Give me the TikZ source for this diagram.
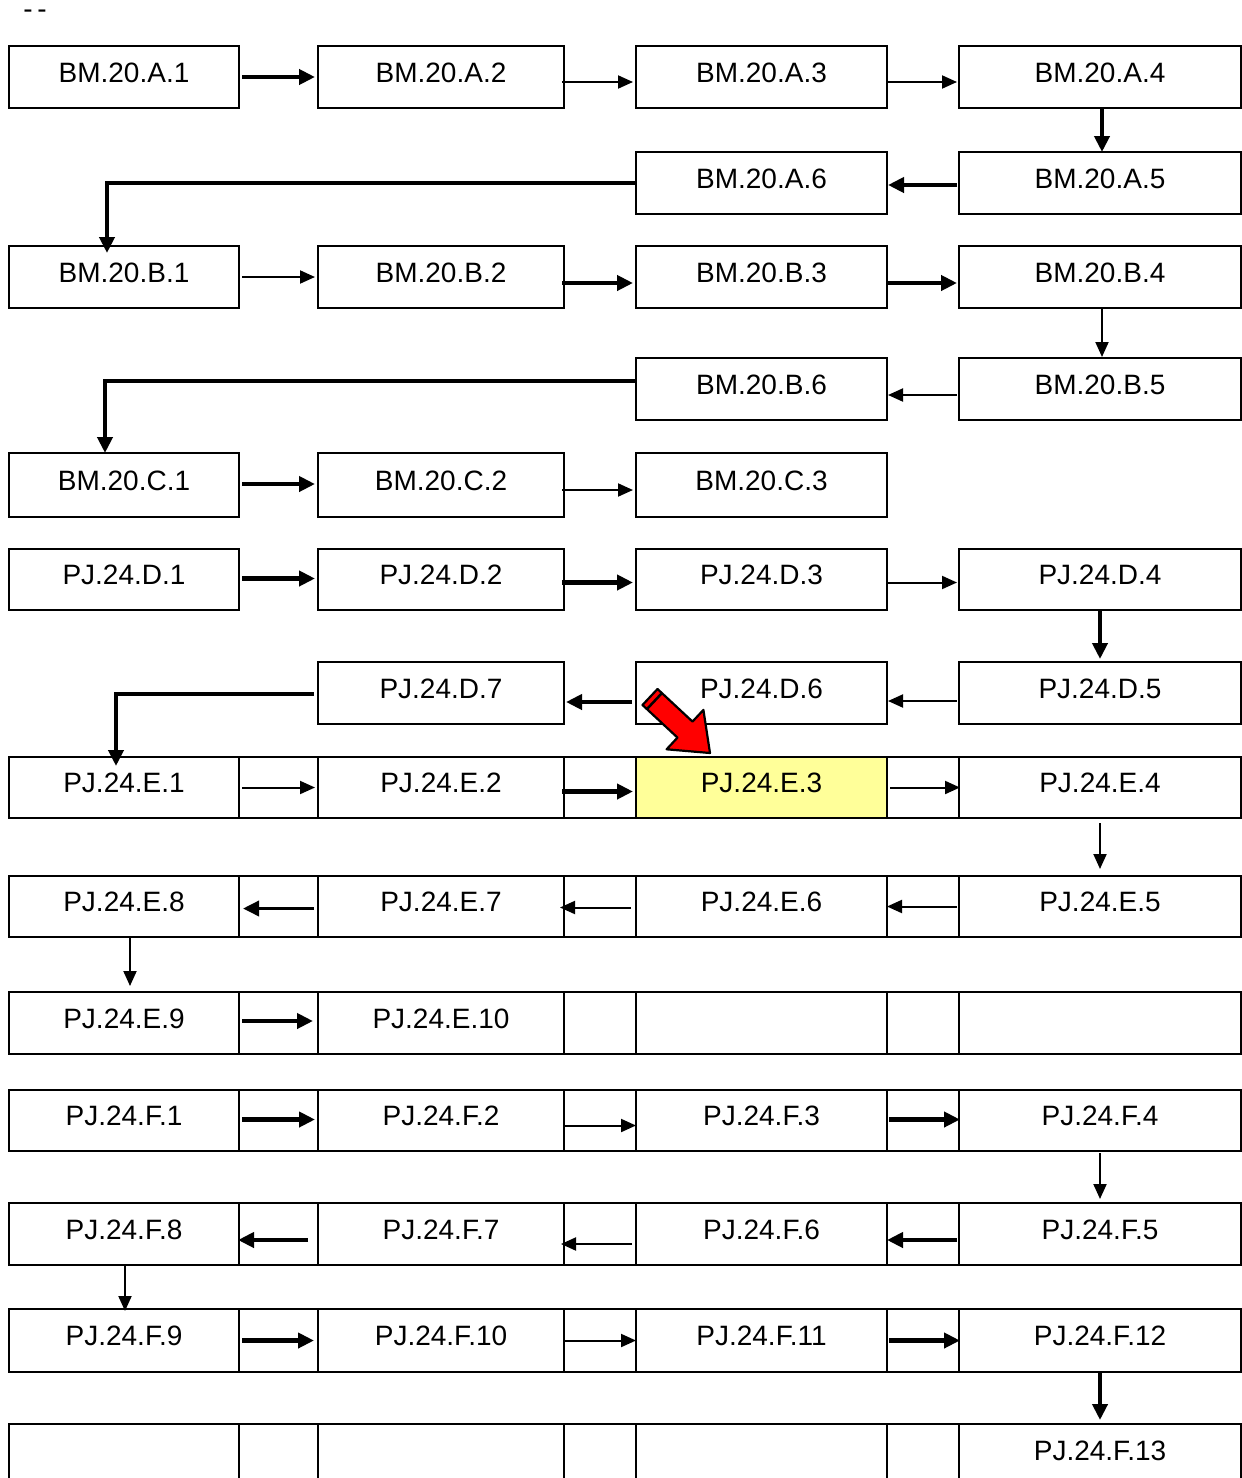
\documentclass[tikz,border=0pt]{standalone}
\usepackage{fontspec}
\setmainfont{Liberation Sans}
\usetikzlibrary{arrows.meta,calc}
\definecolor{hlyellow}{HTML}{FFFF99}
\newcommand\cell[7]{\node[#7, minimum width={#4-#2}, minimum height={#5-#3}] (#1) at ({(#2+#4)/2},{(#3+#5)/2}) {#6};}
% full table row: names prefix, y1, y2, texts of 3 main cells, style of third cell
\newcommand\trow[7]{%
  \cell{#1a}{9}{#2}{239}{#3}{#4}{box}
  \cell{#1ga}{239}{#2}{318}{#3}{}{box}
  \cell{#1b}{318}{#2}{564}{#3}{#5}{box}
  \cell{#1gb}{564}{#2}{636}{#3}{}{box}
  \cell{#1c}{636}{#2}{887}{#3}{#6}{#7}
  \cell{#1gc}{887}{#2}{959}{#3}{}{box}
}
\begin{document}
\begin{tikzpicture}[x=1pt,y=-1pt,
  box/.style={draw, line width=2pt, inner sep=0pt, outer sep=0pt,
    font=\fontsize{28}{32}\selectfont, text height=20pt, text depth=10pt},
  hl/.style={box, fill=hlyellow},
  thk/.style={line width=4.5pt, -{Triangle[length=16pt,width=15pt]}},
  thn/.style={line width=2pt, -{Triangle[length=15pt,width=13pt]}},
  redarrow/.style={fill=red, draw=black, line width=2.2pt, line join=round}]
\useasboundingbox (0,0) rectangle (1242,1478);
\node[font=\fontsize{28}{32}\selectfont, anchor=base, inner sep=0pt, text height=10pt] (dash) at (35,18) {-\,-};

% Row A
\cell{A1}{9}{46}{239}{108}{BM.20.A.1}{box}
\cell{A2}{318}{46}{564}{108}{BM.20.A.2}{box}
\cell{A3}{636}{46}{887}{108}{BM.20.A.3}{box}
\cell{A4}{959}{46}{1241}{108}{BM.20.A.4}{box}
\cell{A6}{636}{152}{887}{214}{BM.20.A.6}{box}
\cell{A5}{959}{152}{1241}{214}{BM.20.A.5}{box}
% Row B
\cell{B1}{9}{246}{239}{308}{BM.20.B.1}{box}
\cell{B2}{318}{246}{564}{308}{BM.20.B.2}{box}
\cell{B3}{636}{246}{887}{308}{BM.20.B.3}{box}
\cell{B4}{959}{246}{1241}{308}{BM.20.B.4}{box}
\cell{B6}{636}{358}{887}{420}{BM.20.B.6}{box}
\cell{B5}{959}{358}{1241}{420}{BM.20.B.5}{box}
% Row C
\cell{C1}{9}{453}{239}{517}{BM.20.C.1}{box}
\cell{C2}{318}{453}{564}{517}{BM.20.C.2}{box}
\cell{C3}{636}{453}{887}{517}{BM.20.C.3}{box}
% Row D
\cell{D1}{9}{549}{239}{610}{PJ.24.D.1}{box}
\cell{D2}{318}{549}{564}{610}{PJ.24.D.2}{box}
\cell{D3}{636}{549}{887}{610}{PJ.24.D.3}{box}
\cell{D4}{959}{549}{1241}{610}{PJ.24.D.4}{box}
\cell{D7}{318}{662}{564}{724}{PJ.24.D.7}{box}
\cell{D6}{636}{662}{887}{724}{PJ.24.D.6}{box}
\cell{D5}{959}{662}{1241}{724}{PJ.24.D.5}{box}
% Table rows E
\trow{E1}{757}{818}{PJ.24.E.1}{PJ.24.E.2}{PJ.24.E.3}{hl}
\cell{E1d}{959}{757}{1241}{818}{PJ.24.E.4}{box}
\trow{E2}{876}{937}{PJ.24.E.8}{PJ.24.E.7}{PJ.24.E.6}{box}
\cell{E2d}{959}{876}{1241}{937}{PJ.24.E.5}{box}
\trow{E3}{992}{1054}{PJ.24.E.9}{PJ.24.E.10}{}{box}
\cell{E3d}{959}{992}{1241}{1054}{}{box}
% Table rows F
\trow{F1}{1090}{1151}{PJ.24.F.1}{PJ.24.F.2}{PJ.24.F.3}{box}
\cell{F1d}{959}{1090}{1241}{1151}{PJ.24.F.4}{box}
\trow{F2}{1203}{1265}{PJ.24.F.8}{PJ.24.F.7}{PJ.24.F.6}{box}
\cell{F2d}{959}{1203}{1241}{1265}{PJ.24.F.5}{box}
\trow{F3}{1309}{1372}{PJ.24.F.9}{PJ.24.F.10}{PJ.24.F.11}{box}
\cell{F3d}{959}{1309}{1241}{1372}{PJ.24.F.12}{box}
\trow{F4}{1424}{1486}{}{}{}{box}
\cell{F4d}{959}{1424}{1241}{1486}{PJ.24.F.13}{box}

% Arrows row A
\draw[thk] ($(A1.east)+(3,0)$) -- ($(A2.west)+(-3,0)$);
\draw[thn] ($(A2.east)+(-2,5)$) -- ($(A3.west)+(-3,5)$);
\draw[thn] ($(A3.east)+(0,5)$) -- ($(A4.west)+(-2,5)$);
\draw[thk] ($(A4.south)+(2,0)$) -- ($(A5.north)+(2,0)$);
\draw[thk] ($(A5.west)+(-2,2)$) -- ($(A6.east)+(1,2)$);
\draw[thk] (A6.west) -| ($(B1.north)+(-17,7)$);
% Row B
\draw[thn] ($(B1.east)+(3,0)$) -- ($(B2.west)+(-3,0)$);
\draw[thk] ($(B2.east)+(-2,6)$) -- ($(B3.west)+(-3,6)$);
\draw[thk] ($(B3.east)+(0,6)$) -- ($(B4.west)+(-2,6)$);
\draw[thn] ($(B4.south)+(2,0)$) -- ($(B5.north)+(2,-1)$);
\draw[thn] ($(B5.west)+(-2,6)$) -- ($(B6.east)+(1,6)$);
\draw[thk] ($(B6.west)+(0,-8)$) -| ($(C1.north)+(-19,0)$);
% Row C
\draw[thk] ($(C1.east)+(3,-1)$) -- ($(C2.west)+(-3,-1)$);
\draw[thn] ($(C2.east)+(-2,5)$) -- ($(C3.west)+(-3,5)$);
% Row D
\draw[thk] ($(D1.east)+(3,-1)$) -- ($(D2.west)+(-3,-1)$);
\draw[thk] ($(D2.east)+(-2,3)$) -- ($(D3.west)+(-3,3)$);
\draw[thn] ($(D3.east)+(0,3)$) -- ($(D4.west)+(-2,3)$);
\draw[thk] (D4.south) -- ($(D5.north)+(0,-3)$);
\draw[thn] ($(D5.west)+(-2,8)$) -- ($(D6.east)+(1,8)$);
\draw[thk] ($(D6.west)+(-4,9)$) -- ($(D7.east)+(2,9)$);
\draw[thk] ($(D7.west)+(-4,1)$) -| ($(E1a.north)+(-8,9)$);
% Row E
\draw[thn] ($(E1a.east)+(3,0)$) -- ($(E1b.west)+(-3,0)$);
\draw[thk] ($(E1b.east)+(-2,4)$) -- ($(E1c.west)+(-3,4)$);
\draw[thn] ($(E1c.east)+(3,0)$) -- ($(E1d.west)+(1,0)$);
\draw[thn] ($(E1d.south)+(0,5)$) -- ($(E2d.north)+(0,-7)$);
\draw[thn] ($(E2d.west)+(-2,0)$) -- ($(E2c.east)+(0,0)$);
\draw[thn] ($(E2c.west)+(-5,1)$) -- ($(E2b.east)+(-4,1)$);
\draw[thk,line width=3.5pt] ($(E2b.west)+(-4,2)$) -- ($(E2a.east)+(4,2)$);
\draw[thn] ($(E2a.south)+(6,1)$) -- ($(E3a.north)+(6,-6)$);
\draw[thk] ($(E3a.east)+(3,-2)$) -- ($(E3b.west)+(-5,-2)$);
% Row F
\draw[thk] ($(F1a.east)+(3,-1)$) -- ($(F1b.west)+(-3,-1)$);
\draw[thn] ($(F1b.east)+(1,5)$) -- ($(F1c.west)+(0,5)$);
\draw[thk] ($(F1c.east)+(2,-1)$) -- ($(F1d.west)+(1,-1)$);
\draw[thn] ($(F1d.south)+(0,2)$) -- ($(F2d.north)+(0,-4)$);
\draw[thk] ($(F2d.west)+(-2,6)$) -- ($(F2c.east)+(0,6)$);
\draw[thn] ($(F2c.west)+(-4,10)$) -- ($(F2b.east)+(-3,10)$);
\draw[thk] ($(F2b.west)+(-10,6)$) -- ($(F2a.east)+(-1,6)$);
\draw[thn] ($(F2a.south)+(1,1)$) -- ($(F3a.north)+(1,2)$);
\draw[thk] ($(F3a.east)+(3,0)$) -- ($(F3b.west)+(-4,0)$);
\draw[thn] ($(F3b.east)+(1,0)$) -- ($(F3c.west)+(0,0)$);
\draw[thk] ($(F3c.east)+(2,0)$) -- ($(F3d.west)+(1,0)$);
\draw[thk] (F3d.south) -- ($(F4d.north)+(0,-4)$);

% Red pointer arrow
\draw[redarrow] (642.5,705) -- (677.5,737.6) -- (666.6,749.3) -- (710,753)
  -- (703.4,709.9) -- (692.5,721.6) -- (657.5,689) -- cycle;
\draw[line width=2.5pt] (646.9,709.1) -- (661.9,693.1);
\end{tikzpicture}
\end{document}
